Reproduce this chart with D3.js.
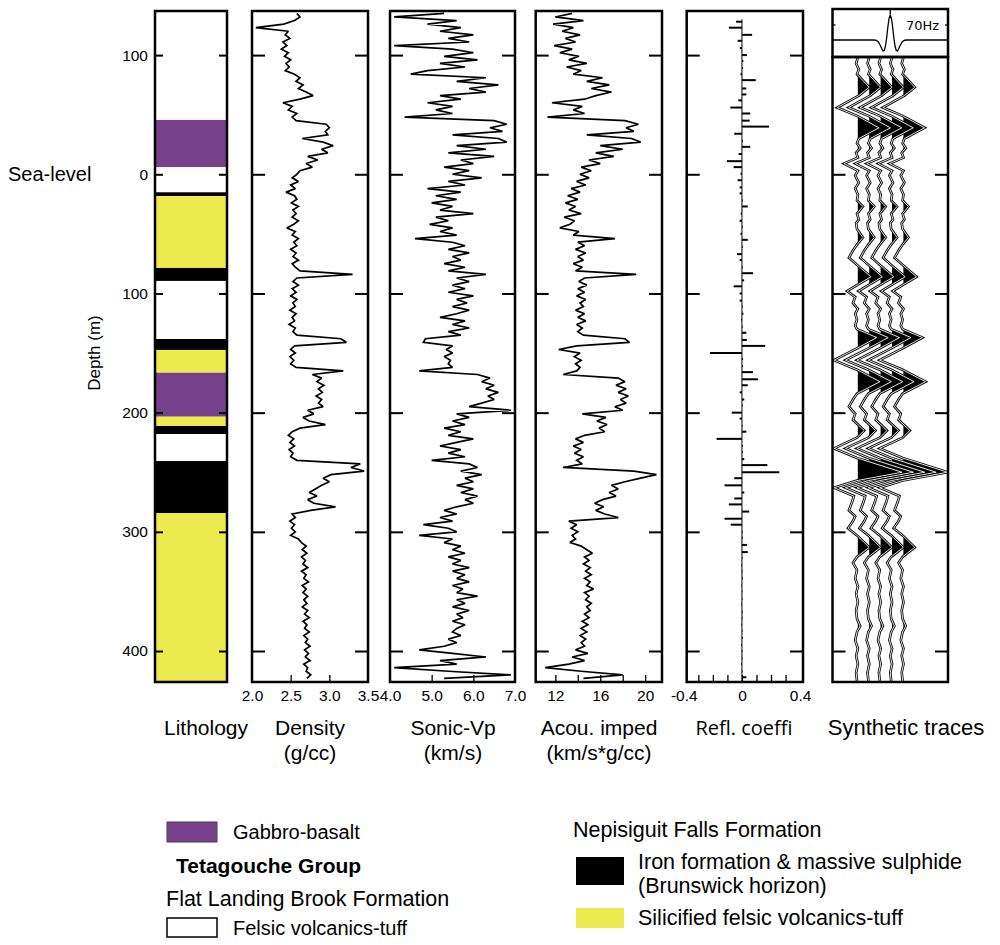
<!DOCTYPE html>
<html>
<head>
<meta charset="utf-8">
<script src="https://cdn.jsdelivr.net/npm/d3@7"></script>
<style>
  body { margin: 0; background: #fff; }
</style>
</head>
<body>
<svg id="chart" width="1000" height="945"></svg>
<script>
// ---- data ----
// log samples every 3 m, depth -135 (above sea level) .. 423 m
const logDepths = d3.range(-135, 424, 3);

const density = [
  2.58,2.62,2.55,2.41,2.05,2.47,2.43,2.49,2.40,2.45,
  2.38,2.47,2.42,2.50,2.44,2.48,2.43,2.55,2.62,2.57,
  2.66,2.60,2.70,2.79,2.62,2.40,2.52,2.47,2.58,2.52,
  2.57,2.96,3.00,2.95,2.98,2.65,2.92,3.05,2.90,2.98,
  2.72,2.85,2.70,2.78,2.62,2.58,2.52,2.60,2.50,2.56,
  2.44,2.55,2.58,2.51,2.60,2.53,2.57,2.52,2.60,2.54,
  2.45,2.56,2.52,2.60,2.54,2.58,2.50,2.57,2.53,2.60,
  2.52,2.56,2.62,3.30,2.58,2.53,2.60,2.52,2.57,2.50,
  2.58,2.53,2.56,2.49,2.57,2.52,2.55,2.48,2.56,2.53,
  2.58,3.15,3.22,2.55,2.50,2.56,2.49,2.54,2.50,2.57,
  3.18,2.78,2.90,2.84,2.93,2.86,2.91,2.83,2.90,2.86,
  2.92,2.72,2.80,2.66,2.74,2.95,2.62,2.52,2.47,2.54,
  2.49,2.55,2.48,2.53,2.50,2.58,3.40,3.28,3.45,3.02,
  2.92,3.00,2.90,2.82,2.74,2.84,2.72,2.80,3.08,2.76,
  2.52,2.56,2.49,2.55,2.51,2.56,2.50,2.60,2.64,2.70,
  2.65,2.71,2.64,2.69,2.66,2.72,2.64,2.70,2.67,2.73,
  2.65,2.70,2.66,2.72,2.67,2.71,2.65,2.72,2.68,2.74,
  2.66,2.71,2.68,2.74,2.67,2.72,2.69,2.75,2.68,2.73,
  2.69,2.75,2.67,2.72,2.70,2.76,2.71
];

const sonicVp = [
  5.3,4.1,5.6,4.9,5.7,5.2,6.0,5.4,5.9,4.1,
  5.5,6.0,5.3,6.1,5.2,5.8,4.9,4.5,6.3,5.6,
  6.6,5.9,6.3,5.2,5.7,4.9,5.5,5.1,5.5,4.35,
  6.5,6.8,6.4,6.7,5.5,6.6,6.8,5.6,6.3,5.4,
  6.5,5.7,6.0,5.3,5.9,5.5,6.2,5.4,5.8,4.9,
  5.7,5.1,5.6,5.0,5.5,5.2,6.0,5.1,5.4,4.95,
  5.5,5.2,5.6,4.6,5.5,5.8,5.4,5.9,5.5,5.7,
  5.3,5.8,5.4,6.3,5.6,5.9,5.5,5.8,5.4,6.0,
  5.6,5.85,5.5,5.9,5.6,5.2,5.8,5.5,5.9,5.4,
  5.7,4.85,4.8,5.5,5.35,5.5,5.3,5.45,5.4,5.5,
  4.7,6.1,6.4,6.2,6.5,6.3,6.6,6.35,6.5,6.2,
  5.9,6.9,5.6,5.9,5.5,5.8,5.3,5.7,5.4,6.0,
  5.6,5.2,5.7,5.4,5.8,5.0,5.9,6.1,5.7,6.2,
  5.8,6.0,5.6,6.0,5.7,6.1,5.8,6.0,5.6,5.3,
  5.6,5.2,5.5,4.8,5.4,5.6,4.7,5.5,5.3,5.7,
  5.5,5.8,5.4,5.7,5.5,5.9,5.5,5.8,5.6,5.9,
  5.5,5.75,5.6,6.1,5.6,5.8,5.5,5.9,5.6,5.75,
  5.5,5.8,5.6,5.5,5.7,5.4,5.6,5.3,4.7,5.5,
  6.3,5.2,5.6,4.1,5.4,6.9,5.3
];

const acousticImp = [
  13.5,12.0,14.5,11.8,13.6,12.6,14.2,12.9,13.8,11.9,
  13.5,12.4,14.1,13.2,14.8,13.0,14.3,13.6,16.2,14.8,
  16.8,15.2,17.0,15.6,14.6,11.7,14.4,13.6,14.6,11.3,
  18.2,19.4,18.3,19.0,14.8,18.8,19.6,16.0,18.0,15.6,
  17.2,15.0,16.0,14.3,15.2,14.2,15.0,13.9,14.7,13.4,
  14.2,13.1,14.0,12.9,13.8,13.2,14.3,12.8,13.7,13.3,
  12.4,14.1,13.6,17.3,14.0,14.6,13.8,14.7,14.0,14.5,
  13.6,14.4,13.8,19.2,14.6,14.1,14.8,14.0,14.6,13.9,
  14.7,14.2,14.5,13.8,14.6,14.0,14.7,13.9,14.4,14.0,
  14.5,18.2,18.6,13.9,12.3,14.2,13.7,14.3,13.8,14.2,
  13.9,12.7,17.6,18.2,17.4,18.3,17.6,18.5,17.8,18.3,
  17.3,18.0,14.4,16.5,15.7,16.6,15.9,16.4,14.6,13.8,
  14.5,13.6,14.3,13.7,14.5,13.9,14.4,12.7,19.0,21.0,
  19.6,18.2,17.0,17.6,16.8,17.4,16.2,15.5,16.3,15.6,
  16.4,17.6,13.2,13.9,13.4,14.0,13.5,13.8,13.3,14.3,
  14.8,15.3,14.6,15.0,14.5,15.1,14.7,15.2,14.6,15.1,
  14.8,15.4,14.6,15.0,14.7,15.2,14.8,15.1,14.6,15.0,
  14.4,14.9,14.3,14.8,14.2,14.7,14.3,14.6,13.8,14.9,
  13.5,14.6,13.2,11.1,14.3,18.0,14.5
];

// reflection coefficient spikes: [depth m, coefficient]
const reflCoeff = [
  [-128,-0.04],[-123,-0.09],[-117,0.07],[-112,-0.03],[-106,-0.015],[-100,0.035],
  [-95,0.01],[-89,0.008],[-84,-0.01],[-79,0.095],[-72,0.03],[-67,0.03],
  [-62,-0.025],[-56,-0.08],[-51,0.057],[-45,0.053],[-40,0.186],[-34,-0.053],
  [-28,0.005],[-23,0.057],[-17,-0.023],[-11,-0.103],[-6,-0.057],[-0.5,-0.01],
  [5,-0.03],[11,-0.016],[16,-0.016],[22,0.005],[27,0.04],[33,-0.008],
  [39,-0.016],[44,0.005],[50,-0.01],[55,0.04],[61,0.005],[67,-0.034],
  [72,-0.016],[78,0.005],[83,0.076],[89,0.015],[94,-0.057],[100,-0.016],
  [106,-0.016],[111,0.005],[117,0.01],[122,-0.006],[128,0.005],[133,0.03],
  [139,0.034],[144,0.16],[150,-0.22],[155,0.008],[161,0.008],[166,0.076],
  [172,0.11],[177,0.04],[183,-0.016],[189,0.016],[194,0.005],[200,-0.07],
  [205,-0.016],[211,0.005],[216,0.03],[222,-0.174],[228,0.005],[233,0.005],
  [239,0.016],[244,0.175],[250,0.257],[255,-0.053],[261,-0.12],[267,0.016],
  [272,-0.053],[277,-0.09],[283,0.05],[289,-0.12],[294,-0.077],[300,0.005],
  [305,0.006],[311,0.035],[317,0.04],[322,0.004],[328,-0.004],[333,0.004],
  [339,0.005],[345,-0.004],[350,0.004],[356,0.004],[361,-0.004],[367,0.005],
  [372,0.004],[378,-0.004],[383,0.004],[389,0.005],[395,-0.004],[400,0.004],
  [406,0.004],[411,-0.004],[417,0.004],[422,0.03]
];

// synthetic trace (same on all five traces): [depth m, normalised amplitude]
const syntheticTrace = [
  [-98,0.02],[-93,-0.02],[-88,0.04],[-84,0.0],[-73,0.27],[-66,0.04],[-56,-0.44],
  [-49,0.0],[-39,0.49],[-30,0.04],[-26,0.0],[-22,0.07],[-18,-0.02],[-14,0.02],
  [-9,-0.29],[-3,0.02],[1,-0.04],[7,0.04],[12,-0.04],[17,0.02],[22,0.0],
  [27,0.13],[33,0.0],[38,0.04],[41,-0.02],[46,0.0],[53,0.13],[59,0.0],
  [64,-0.09],[70,-0.18],[76,0.0],[86,0.31],[93,0.0],[98,-0.22],[103,-0.04],
  [108,-0.09],[113,0.02],[117,-0.04],[122,0.0],[127,-0.04],[130,0.0],
  [137,0.44],[146,0.0],[156,-0.51],[164,0.0],[174,0.51],[184,0.0],[189,-0.09],
  [195,-0.18],[201,-0.04],[206,-0.09],[215,0.16],[221,0.0],[230,-0.51],
  [238,0.0],[250,1.0],[257,0.0],[263,-0.51],[270,-0.07],[275,-0.11],[282,-0.18],
  [287,-0.04],[291,-0.09],[297,-0.2],[303,0.0],[313,0.27],[321,0.0],[326,-0.09],
  [332,0.0],[339,-0.04],[346,0.02],[352,-0.02],[359,0.02],[366,-0.02],[373,0.0],
  [379,0.07],[384,0.0],[391,-0.04],[398,0.02],[404,-0.02],[411,0.02],[418,-0.02],[425,0.0]
];

// 70 Hz wavelet: time (ms) and amplitude
const waveletTime = [-48,-14,-12,-10,-8,-7,-6,-5,-4,-3,-2,-1,0,1,2,3,4,5,6,7,8,10,12,14,48];
const waveletAmp  = [0,0,-0.01,-0.07,-0.24,-0.35,-0.44,-0.42,-0.25,0.08,0.51,0.86,1,
                     0.86,0.51,0.08,-0.25,-0.42,-0.44,-0.35,-0.24,-0.07,-0.01,0,0];

// lithology column: [top m, base m, unit]
const lithology = [
  [-137,-45.6,'felsic'],[-45.6,-5.9,'gabbro'],[-5.9,15.1,'felsic'],[15.1,18.2,'iron'],
  [18.2,78.6,'silicified'],[78.6,89.5,'iron'],[89.5,138.2,'felsic'],[138.2,147.4,'iron'],
  [147.4,166.5,'silicified'],[166.5,203.4,'gabbro'],[203.4,211.2,'silicified'],
  [211.2,217.9,'iron'],[217.9,240.6,'felsic'],[240.6,284.2,'iron'],[284.2,426,'silicified']
];

const depthTicks = [-100, 0, 100, 200, 300, 400];

// ---- drawing ----
const FONT = '"Liberation Sans", Arial, Helvetica, sans-serif';
const rockColor = { felsic: '#ffffff', gabbro: '#76418a', iron: '#000000', silicified: '#ecea4e' };
const panelTop = 11, panelBottom = 682;
const tickFont = 15.5;

const svg = d3.select('#chart');
const y = d3.scaleLinear().domain([-137, 426]).range([panelTop, panelBottom]);

function frame(x0, x1, y0, y1) {
  svg.append('rect')
    .attr('x', x0).attr('y', y0)
    .attr('width', x1 - x0).attr('height', y1 - y0)
    .attr('fill', 'none').attr('stroke', '#000').attr('stroke-width', 2.5);
}

function depthTickMarks(x0, x1, len, values) {
  const l = svg.append('g').attr('transform', `translate(${x0},0)`)
    .call(d3.axisLeft(y).tickValues(values).tickSize(-len).tickFormat(''));
  const r = svg.append('g').attr('transform', `translate(${x1},0)`)
    .call(d3.axisRight(y).tickValues(values).tickSize(-len).tickFormat(''));
  [l, r].forEach(g => {
    g.select('.domain').remove();
    g.selectAll('line').attr('stroke-width', 2);
  });
}

function bottomScale(x, labels, fmt, minor) {
  const lab = svg.append('g').attr('transform', `translate(0,${panelBottom})`)
    .call(d3.axisBottom(x).tickValues(labels).tickFormat(fmt).tickSize(0).tickPadding(8));
  lab.select('.domain').remove();
  lab.attr('font-family', FONT).attr('font-size', tickFont);
  const mn = svg.append('g').attr('transform', `translate(0,${panelBottom})`)
    .call(d3.axisBottom(x).tickValues(minor).tickSize(-7).tickFormat(''));
  mn.select('.domain').remove();
  mn.selectAll('line').attr('stroke-width', 1.3);
}

function title(cx, lines, font, size) {
  lines.forEach((t, i) => {
    svg.append('text').attr('x', cx).attr('y', 735 + i * 25)
      .attr('text-anchor', 'middle')
      .attr('font-family', font || FONT).attr('font-size', size || 21)
      .text(t);
  });
}

// lithology column
const lithX0 = 155, lithX1 = 227;
svg.append('g').selectAll('rect').data(lithology).join('rect')
  .attr('x', lithX0).attr('width', lithX1 - lithX0)
  .attr('y', d => y(d[0])).attr('height', d => y(d[1]) - y(d[0]))
  .attr('fill', d => rockColor[d[2]]);
frame(lithX0, lithX1, panelTop, panelBottom);
depthTickMarks(lithX0, lithX1, 8, depthTicks);

const leftAxis = svg.append('g').attr('transform', `translate(${lithX0},0)`)
  .call(d3.axisLeft(y).tickValues(depthTicks).tickFormat(d => Math.abs(d)).tickSize(0).tickPadding(7));
leftAxis.select('.domain').remove();
leftAxis.attr('font-family', FONT).attr('font-size', tickFont);

svg.append('text').attr('x', 8).attr('y', y(0) + 7)
  .attr('font-family', FONT).attr('font-size', 20).text('Sea-level');
svg.append('text')
  .attr('transform', `translate(100,${y(150)}) rotate(-90)`)
  .attr('text-anchor', 'middle')
  .attr('font-family', FONT).attr('font-size', 17).text('Depth (m)');
title(206, ['Lithology']);

// well logs
const logPanels = [
  { values: density, domain: [2.0, 3.5], range: [252, 368], labels: [2.0, 2.5, 3.0, 3.5],
    fmt: d => d.toFixed(1), minor: [2.5, 3.0], title: ['Density', '(g/cc)'], cx: 310 },
  { values: sonicVp, domain: [4.0, 7.0], range: [390, 515], labels: [4, 5, 6, 7],
    fmt: d => d.toFixed(1), minor: [5, 6], title: ['Sonic-Vp', '(km/s)'], cx: 453 },
  { values: acousticImp, domain: [10.25, 21.5], range: [535.7, 662], labels: [12, 16, 20],
    fmt: d => String(d), minor: [12, 14, 16, 18, 20], title: ['Acou. imped', '(km/s*g/cc)'], cx: 599 }
];

logPanels.forEach((p, i) => {
  const x = d3.scaleLinear().domain(p.domain).range(p.range);
  svg.append('clipPath').attr('id', 'clip' + i).append('rect')
    .attr('x', p.range[0]).attr('y', panelTop)
    .attr('width', p.range[1] - p.range[0]).attr('height', panelBottom - panelTop);
  const line = d3.line().x(d => x(d[1])).y(d => y(d[0]));
  svg.append('path')
    .datum(logDepths.map((d, k) => [d, p.values[k]]))
    .attr('clip-path', `url(#clip${i})`)
    .attr('d', line)
    .attr('fill', 'none').attr('stroke', '#000').attr('stroke-width', 1.7)
    .attr('stroke-linejoin', 'miter').attr('stroke-miterlimit', 2);
  frame(p.range[0], p.range[1], panelTop, panelBottom);
  depthTickMarks(p.range[0], p.range[1], 13, depthTicks);
  bottomScale(x, p.labels, p.fmt, p.minor);
  title(p.cx, p.title);
});

// reflection coefficients
const xr = d3.scaleLinear().domain([-0.38, 0.42]).range([686.7, 803]);
svg.append('line')
  .attr('x1', xr(0)).attr('x2', xr(0))
  .attr('y1', y(-130)).attr('y2', panelBottom)
  .attr('stroke', '#000').attr('stroke-width', 1);
svg.append('g').selectAll('line').data(reflCoeff).join('line')
  .attr('x1', xr(0)).attr('x2', d => xr(d[1]))
  .attr('y1', d => y(d[0])).attr('y2', d => y(d[0]))
  .attr('stroke', '#000').attr('stroke-width', 2);
frame(686.7, 803, panelTop, panelBottom);
depthTickMarks(686.7, 803, 13, depthTicks);
bottomScale(xr, [-0.4, 0, 0.4], d => String(d), [-0.3, -0.2, -0.1, 0, 0.1, 0.2, 0.3]);
title(744, ['Refl. coeffi'], '"Open Sans", "Noto Sans", sans-serif', 20);

// synthetic traces
const sx0 = 832.5, sx1 = 948, waveTop = 9, waveBottom = 57;
const amp = d3.scaleLinear().domain([0, 1]).range([0, 45]);
const bases = [0, 1, 2, 3, 4].map(k => 857 + 11.4 * k);

svg.append('clipPath').attr('id', 'synthClip').append('rect')
  .attr('x', sx0).attr('y', waveBottom).attr('width', sx1 - sx0).attr('height', panelBottom - waveBottom);

const synthG = svg.append('g').attr('clip-path', 'url(#synthClip)');
bases.forEach((b, k) => {
  svg.append('clipPath').attr('id', 'pos' + k).append('rect')
    .attr('x', b + 0.8).attr('y', waveBottom).attr('width', 120).attr('height', panelBottom - waveBottom);
  synthG.append('path')
    .datum(syntheticTrace)
    .attr('clip-path', `url(#pos${k})`)
    .attr('d', d3.area().y(d => y(d[0])).x0(b).x1(d => b + amp(d[1])))
    .attr('fill', '#000');
});
bases.forEach(b => {
  const ln = d3.line().x(d => b + amp(d[1])).y(d => y(d[0]));
  synthG.append('path').datum(syntheticTrace).attr('d', ln)
    .attr('fill', 'none').attr('stroke', '#000').attr('stroke-width', 2.6);
  synthG.append('path').datum(syntheticTrace).attr('d', ln)
    .attr('fill', 'none').attr('stroke', '#fff').attr('stroke-width', 0.9);
});
frame(sx0, sx1, waveBottom, panelBottom);
depthTickMarks(sx0, sx1, 13, depthTicks.slice(1));

// wavelet box
const xt = d3.scaleLinear().domain([-48, 48]).range([sx0, sx1]);
const ya = d3.scaleLinear().domain([-1, 1]).range([65, 15]);
svg.append('path')
  .datum(waveletTime.map((t, k) => [t, waveletAmp[k]]))
  .attr('d', d3.line().x(d => xt(d[0])).y(d => ya(d[1])))
  .attr('fill', 'none').attr('stroke', '#000').attr('stroke-width', 1.3);
frame(sx0, sx1, waveTop, waveBottom);
svg.append('line').attr('x1', xt(0)).attr('x2', xt(0)).attr('y1', waveTop).attr('y2', waveTop + 5)
  .attr('stroke', '#000').attr('stroke-width', 1.3);
[[sx0, sx0 + 3], [sx1 - 3, sx1]].forEach(([a, b2]) => {
  svg.append('line').attr('x1', a).attr('x2', b2).attr('y1', 25).attr('y2', 25)
    .attr('stroke', '#000').attr('stroke-width', 1.3);
});
svg.append('text').attr('x', 906).attr('y', 30)
  .attr('font-family', '"DejaVu Sans", sans-serif').attr('font-size', 13).text('70Hz');
title(906, ['Synthetic traces'], null, 22);

// legend
const lg = svg.append('g').attr('font-family', FONT).attr('font-size', 20);
lg.append('rect').attr('x', 167).attr('y', 822).attr('width', 50).attr('height', 20)
  .attr('fill', rockColor.gabbro).attr('stroke', '#444').attr('stroke-width', 1);
lg.append('text').attr('x', 233).attr('y', 839).text('Gabbro-basalt');
lg.append('text').attr('x', 176).attr('y', 873).attr('font-weight', 'bold').attr('font-size', 21)
  .text('Tetagouche Group');
lg.append('text').attr('x', 166).attr('y', 906).attr('font-size', 21.5).text('Flat Landing Brook Formation');
lg.append('rect').attr('x', 167).attr('y', 918).attr('width', 50).attr('height', 19)
  .attr('fill', '#fff').attr('stroke', '#000').attr('stroke-width', 1.5);
lg.append('text').attr('x', 233).attr('y', 935).text('Felsic volcanics-tuff');
const lgr = lg.append('g').attr('font-size', 21.5);
lgr.append('text').attr('x', 573).attr('y', 837).text('Nepisiguit Falls Formation');
lgr.append('rect').attr('x', 576).attr('y', 857).attr('width', 48).attr('height', 28)
  .attr('fill', rockColor.iron);
lgr.append('text').attr('x', 638).attr('y', 869).text('Iron formation & massive sulphide');
lgr.append('text').attr('x', 638).attr('y', 893).text('(Brunswick horizon)');
lgr.append('rect').attr('x', 576).attr('y', 908).attr('width', 48).attr('height', 20)
  .attr('fill', rockColor.silicified);
lgr.append('text').attr('x', 638).attr('y', 925).text('Silicified felsic volcanics-tuff');
</script>
</body>
</html>
